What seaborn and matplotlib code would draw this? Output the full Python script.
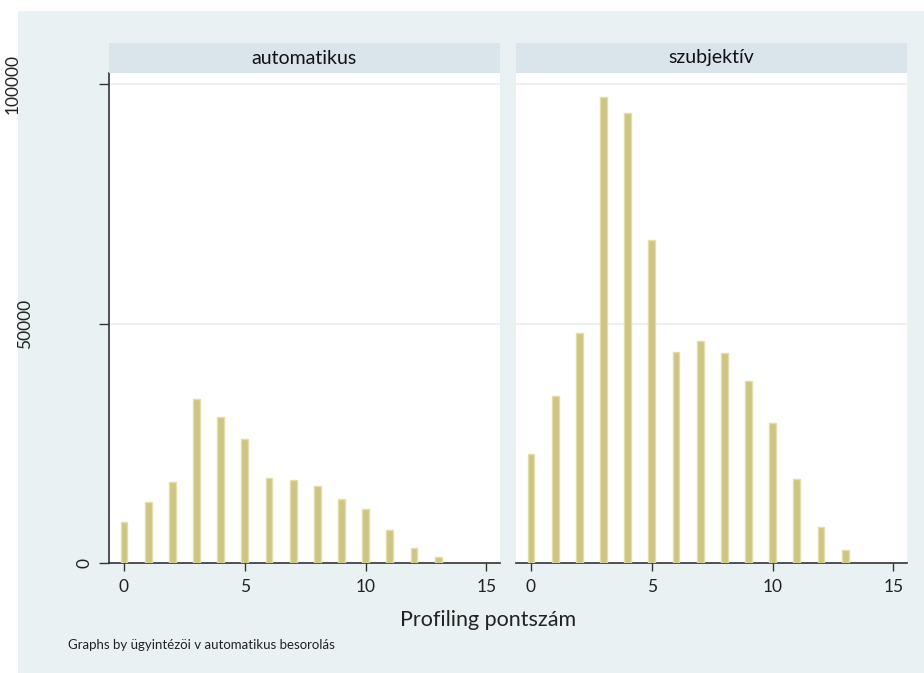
import numpy as np
import pandas as pd
import matplotlib
matplotlib.use("Agg")
import matplotlib.pyplot as plt
import seaborn as sns

sns.set_style("white")
plt.rcParams['font.family'] = ['Lato', 'DejaVu Sans']

# ---- data ----
scores = list(range(14))
auto_counts = [8700, 12900, 17000, 34300, 30600, 25900, 17900, 17300, 16200, 13400, 11300, 6900, 3200, 1250]
subj_counts = [22800, 34900, 48100, 97400, 94100, 67600, 44100, 46400, 43900, 38100, 29400, 17600, 7500, 2800]
panels = ["automatikus", "szubjektív"]
ytick_vals = [0, 50000, 100000]
ytick_labels = ["0", "50000", "100000"]
xtick_vals = [0, 5, 10, 15]
xtick_labels = ["0", "5", "10", "15"]
xlabel = "Profiling pontszám"
note = "Graphs by ügyintézöi v automatikus besorolás"

df = pd.DataFrame({
    "score": scores * 2,
    "count": auto_counts + subj_counts,
    "panel": [panels[0]] * len(scores) + [panels[1]] * len(scores),
})

W, H = 924, 673
fig = plt.figure(figsize=(W / 100, H / 100), dpi=100)
fig.patch.set_facecolor("white")

bg = "#eaf1f3"
strip_c = "#d9e5eb"
grid_c = "#e6eef2"
bar_fc = "#cdc584"
bar_ec = "#e4dda8"
dark = "#333333"

# outer light background
fig.patches.append(plt.Rectangle((18 / W, 0), 1 - 18 / W, 1 - 11 / H,
                                 transform=fig.transFigure, facecolor=bg,
                                 edgecolor="none", zorder=-10))

def fx(px):
    return px / W

def fy(py):
    return 1 - py / H

plot_top, plot_bot = 73, 563.3
strip_top = 43
lefts = [109, 516]
width_px = 391

for i, name in enumerate(panels):
    l = lefts[i]
    ax = fig.add_axes([fx(l), fy(plot_bot), width_px / W, (plot_bot - plot_top) / H])
    ax.set_facecolor("white")
    sub = df[df["panel"] == name]
    sns.barplot(data=sub, x="score", y="count", native_scale=True, width=0.28,
                color=bar_fc, edgecolor=bar_ec, linewidth=1.0, saturation=1,
                errorbar=None, ax=ax, zorder=3)
    for p in ax.patches:
        p.set_facecolor(bar_fc)
        p.set_edgecolor(bar_ec)
    ax.set_xlim(-0.62, 15.56)
    ax.set_ylim(0, 102400)
    for yv in ytick_vals[1:]:
        ax.axhline(yv, color=grid_c, lw=1.2, zorder=1)
    ax.set_xlabel("")
    ax.set_ylabel("")
    ax.set_xticks(xtick_vals)
    ax.set_xticklabels(xtick_labels, fontsize=12.5, color="#222222")
    ax.tick_params(axis="x", direction="out", length=6, width=1, color=dark, pad=5, bottom=True)
    for s in ["top", "right"]:
        ax.spines[s].set_visible(False)
    ax.spines["bottom"].set_color(dark)
    ax.spines["bottom"].set_linewidth(1.2)
    if i == 0:
        ax.spines["left"].set_color(dark)
        ax.spines["left"].set_linewidth(1.2)
        ax.set_yticks(ytick_vals)
        ax.set_yticklabels([""] * len(ytick_vals))
        ax.tick_params(axis="y", direction="out", length=7, width=1, color=dark, left=True)
        offsets = [-24, -84, -96]
        for yv, lab, off in zip(ytick_vals, ytick_labels, offsets):
            ax.annotate(lab, xy=(0, yv), xycoords=("axes fraction", "data"),
                        xytext=(off, 0), textcoords="offset pixels",
                        rotation=90, ha="center", va="center",
                        fontsize=12.5, color="#222222", annotation_clip=False)
    else:
        ax.spines["left"].set_visible(False)
        ax.set_yticks(ytick_vals)
        ax.set_yticklabels([])
        ax.tick_params(axis="y", left=False)

    sax = fig.add_axes([fx(l), fy(plot_top), width_px / W, (plot_top - strip_top) / H])
    sax.set_facecolor(strip_c)
    sax.set_xticks([])
    sax.set_yticks([])
    for s in sax.spines.values():
        s.set_visible(False)
    sax.text(0.5, 0.5, name, ha="center", va="center", fontsize=14, color="#111111",
             transform=sax.transAxes)

fig.text(fx(488), fy(620), xlabel, ha="center", va="center", fontsize=15.5, color="#222222")
fig.text(fx(68), fy(645), note, ha="left", va="center", fontsize=9.5, color="#222222")

fig.savefig("out.png", dpi=100, facecolor="white")
